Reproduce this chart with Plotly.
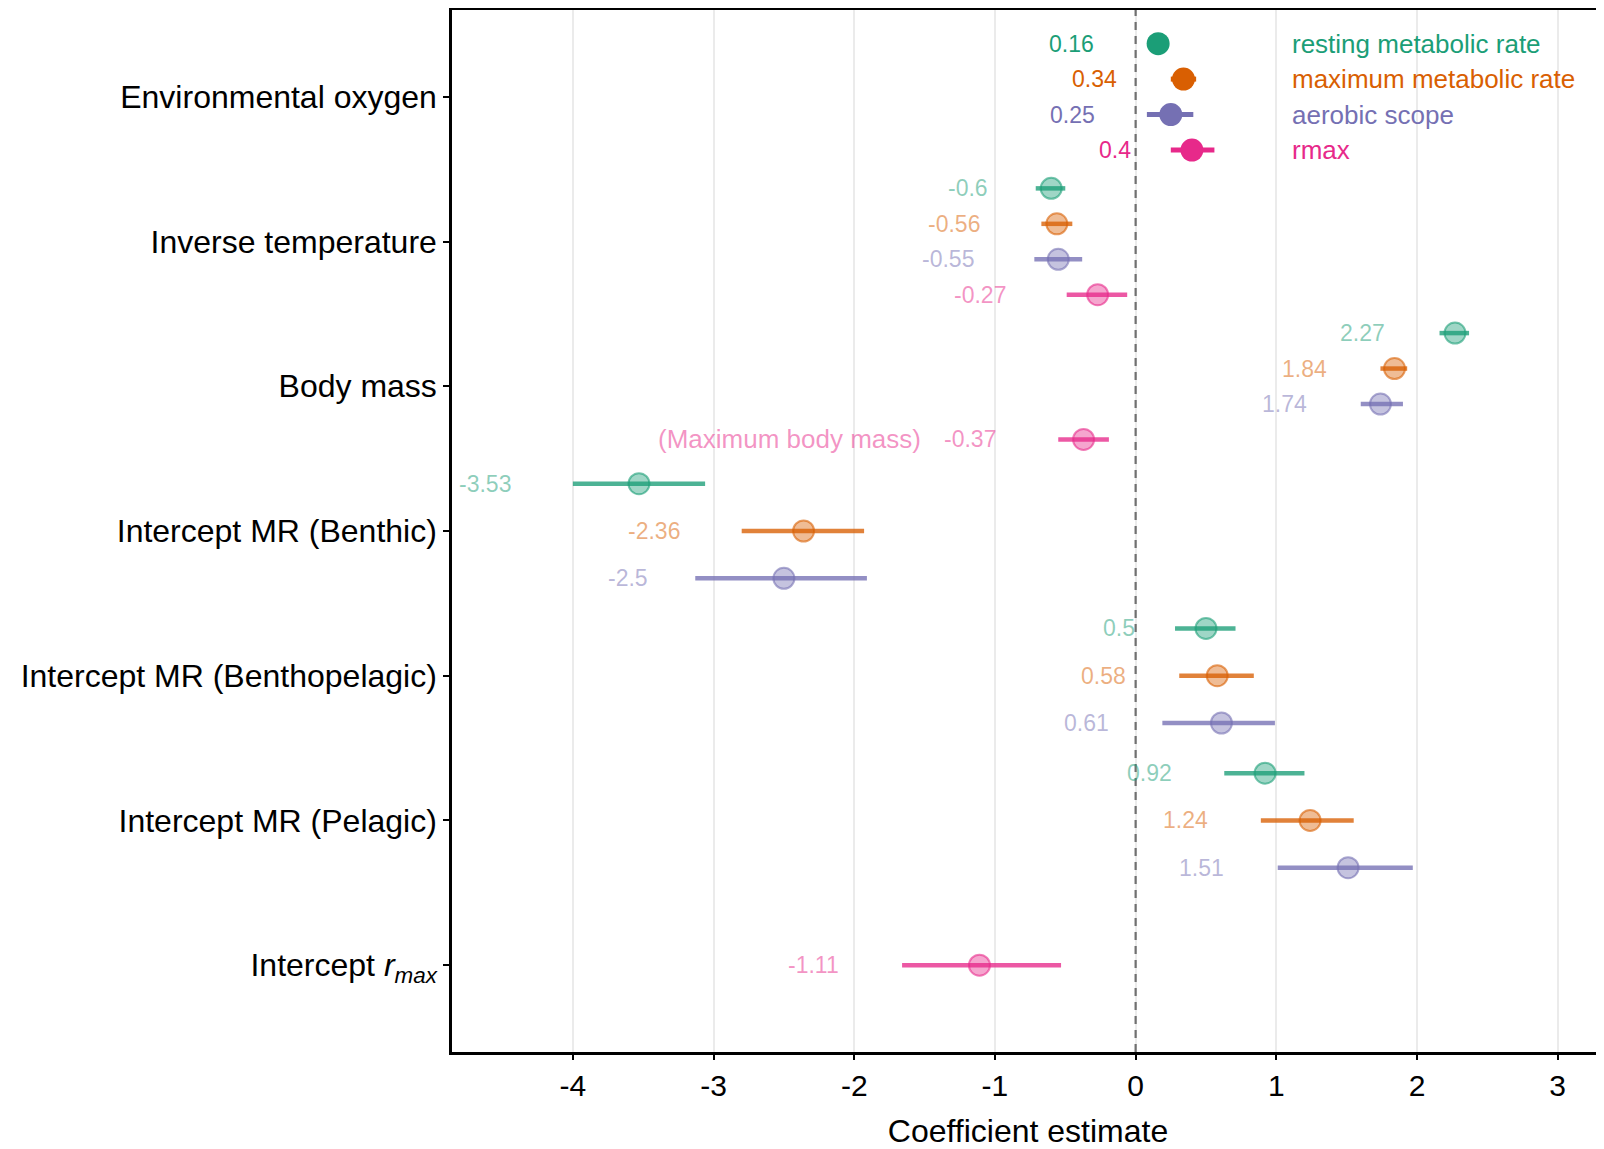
import plotly.graph_objects as go

# ---------------- data ----------------
categories = [
    "Environmental oxygen",
    "Inverse temperature",
    "Body mass",
    "Intercept MR (Benthic)",
    "Intercept MR (Benthopelagic)",
    "Intercept MR (Pelagic)",
    "Intercept rmax",
]
category_ticktext = [
    "Environmental oxygen",
    "Inverse temperature",
    "Body mass",
    "Intercept MR (Benthic)",
    "Intercept MR (Benthopelagic)",
    "Intercept MR (Pelagic)",
    "Intercept <i>r</i><sub><i>max</i></sub>",
]
series_names = ["resting metabolic rate", "maximum metabolic rate", "aerobic scope", "rmax"]

resting_est = [0.16, -0.60, 2.27, -3.53, 0.50, 0.92, None]
resting_lo = [0.10, -0.71, 2.16, -4.00, 0.28, 0.63, None]
resting_hi = [0.22, -0.50, 2.37, -3.06, 0.71, 1.20, None]

maximum_est = [0.34, -0.56, 1.84, -2.36, 0.58, 1.24, None]
maximum_lo = [0.25, -0.67, 1.74, -2.80, 0.31, 0.89, None]
maximum_hi = [0.43, -0.45, 1.93, -1.93, 0.84, 1.55, None]

aerobic_est = [0.25, -0.55, 1.74, -2.50, 0.61, 1.51, None]
aerobic_lo = [0.08, -0.72, 1.60, -3.13, 0.19, 1.01, None]
aerobic_hi = [0.41, -0.38, 1.90, -1.91, 0.99, 1.97, None]

rmax_est = [0.40, -0.27, -0.37, None, None, None, -1.11]
rmax_lo = [0.25, -0.49, -0.55, None, None, None, -1.66]
rmax_hi = [0.56, -0.06, -0.19, None, None, None, -0.53]

x_tick_values = [-4, -3, -2, -1, 0, 1, 2, 3]
x_tick_labels = ["-4", "-3", "-2", "-1", "0", "1", "2", "3"]

# label anchor positions (right edge of value text, in x units) - repelled labels
resting_label_x = [-0.28, -1.035, 1.79, -4.423, 0.012, 0.273, None]
maximum_label_x = [-0.118, -1.094, 1.374, -3.226, -0.052, 0.529, None]
aerobic_label_x = [-0.277, -1.134, 1.232, -3.45, -0.175, 0.64, None]
rmax_label_x = [-0.02, -0.905, -0.975, None, None, None, -2.094]

note_text = "(Maximum body mass)"
note_x = -1.509
legend_text_x = 1.1

# ---------------- styling ----------------
colors = [(27, 158, 119), (217, 95, 2), (117, 112, 179), (231, 41, 138)]
FONT = "Liberation Sans, Arial, Helvetica, sans-serif"


def rgba(c, a):
    return f"rgba({c[0]},{c[1]},{c[2]},{a})"


ests = [resting_est, maximum_est, aerobic_est, rmax_est]
los = [resting_lo, maximum_lo, aerobic_lo, rmax_lo]
his = [resting_hi, maximum_hi, aerobic_hi, rmax_hi]
label_xs = [resting_label_x, maximum_label_x, aerobic_label_x, rmax_label_x]

# dodge positions
dodge_width = 0.98
ypos = [[None] * len(categories) for _ in series_names]
for ci in range(len(categories)):
    present = [s for s in range(len(series_names)) if ests[s][ci] is not None]
    n = len(present)
    for k, s in enumerate(present):
        ypos[s][ci] = (ci + 1) + (k - (n - 1) / 2) * (dodge_width / n)

fig = go.Figure()
annotations = []

for s, name in enumerate(series_names):
    c = colors[s]
    for highlight in (False, True):
        idx = [i for i in range(len(categories))
               if ests[s][i] is not None and ((i == 0) == highlight)]
        if not idx:
            continue
        xs = [ests[s][i] for i in idx]
        ys = [ypos[s][i] for i in idx]
        plus = [his[s][i] - ests[s][i] for i in idx]
        minus = [ests[s][i] - los[s][i] for i in idx]
        if highlight:
            err_col, err_th = rgba(c, 1), 5
            mk = dict(size=23, color=rgba(c, 1), line=dict(width=0))
        else:
            err_col, err_th = rgba(c, 0.78), 4.5
            mk = dict(size=21, color=rgba(c, 0.42), line=dict(width=2, color=rgba(c, 0.6)))
        fig.add_trace(go.Scatter(
            x=xs, y=ys, mode="markers", name=name, showlegend=False,
            marker=mk,
            error_x=dict(type="data", symmetric=False, array=plus, arrayminus=minus,
                         width=0, thickness=err_th, color=err_col),
            hoverinfo="x+y",
        ))
        for i in idx:
            annotations.append(dict(
                x=label_xs[s][i], y=ypos[s][i], xref="x", yref="y",
                text=f"{ests[s][i]:g}", showarrow=False, xanchor="right", yanchor="middle",
                font=dict(family=FONT, size=23, color=rgba(c, 1 if highlight else 0.5)),
            ))
    # legend-like text next to the first category
    annotations.append(dict(
        x=legend_text_x, y=ypos[s][0], xref="x", yref="y", text=name,
        showarrow=False, xanchor="left", yanchor="middle",
        font=dict(family=FONT, size=26, color=rgba(c, 1)),
    ))

# note next to the rmax body-mass estimate
annotations.append(dict(
    x=note_x, y=ypos[3][2], xref="x", yref="y", text=note_text,
    showarrow=False, xanchor="right", yanchor="middle",
    font=dict(family=FONT, size=26, color=rgba(colors[3], 0.5)),
))

fig.add_shape(type="line", xref="x", yref="paper", x0=0, x1=0, y0=0, y1=1,
              line=dict(color="#707070", width=2.2, dash="8px,6px"), layer="above")

# page body has an 8px margin: figure is sized so that it ends at the window edge
fig.update_layout(
    width=1596, height=1141,
    margin=dict(l=444, r=0, t=2, b=97, autoexpand=False),
    paper_bgcolor="white", plot_bgcolor="white",
    font=dict(family=FONT, color="black"),
    annotations=annotations,
    showlegend=False,
)
fig.update_xaxes(
    automargin=False,
    range=[-4.859, 3.329],
    tickvals=x_tick_values, ticktext=x_tick_labels,
    tickfont=dict(family=FONT, size=30, color="black"),
    showgrid=True, gridcolor="#EBEBEB", gridwidth=1.5,
    zeroline=False,
    showline=True, linecolor="black", linewidth=2.5, mirror=True,
    ticks="outside", ticklen=5, tickwidth=2, tickcolor="black",
    title=dict(text="Coefficient estimate", font=dict(family=FONT, size=32, color="black"), standoff=22),
)
fig.update_yaxes(
    automargin=False,
    range=[7.6, 0.4],
    tickvals=list(range(1, len(categories) + 1)), ticktext=category_ticktext,
    tickfont=dict(family=FONT, size=32, color="black"),
    showgrid=False, zeroline=False,
    showline=True, linecolor="black", linewidth=2.5,
    ticks="outside", ticklen=6, tickwidth=2, tickcolor="black",
)

fig.write_html("out.html")
